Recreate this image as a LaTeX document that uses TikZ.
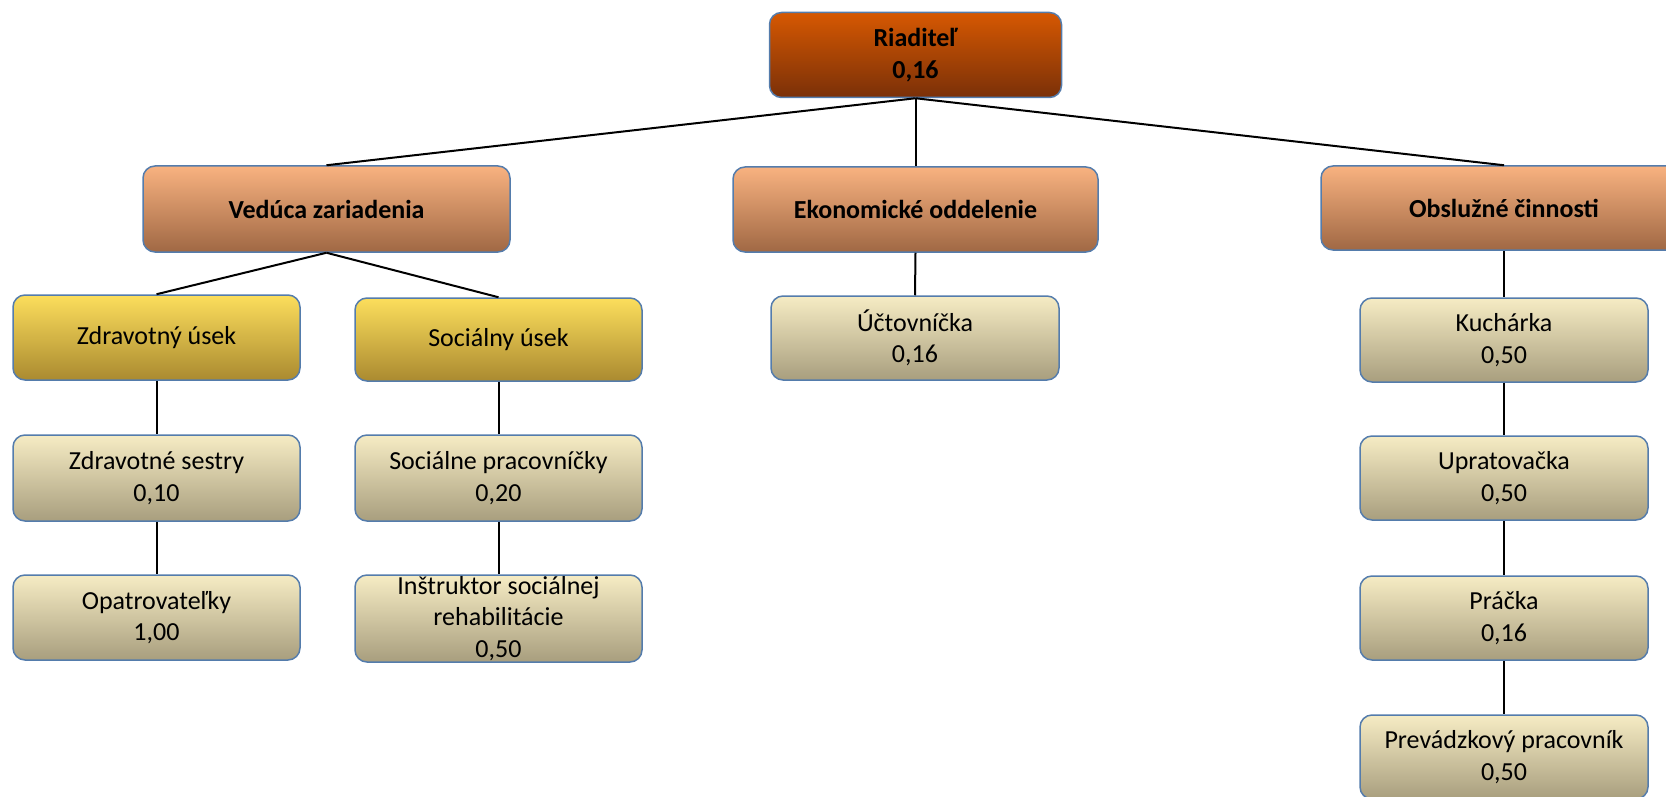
\documentclass[tikz,border=0pt]{standalone}
\usepackage{fontspec}
\setmainfont{Carlito}
\definecolor{bordc}{RGB}{84,124,172}
\definecolor{rtop}{RGB}{214,88,2}
\definecolor{rbot}{RGB}{122,48,8}
\definecolor{otop}{RGB}{248,178,128}
\definecolor{obot}{RGB}{160,104,68}
\definecolor{ytop}{RGB}{252,222,92}
\definecolor{ybot}{RGB}{170,138,48}
\definecolor{ltop}{RGB}{246,236,196}
\definecolor{lbot}{RGB}{168,158,126}
\tikzset{
  box/.style={draw=bordc, line width=1.5pt, rounded corners=12pt, inner sep=0pt,
    align=center, font=\fontsize{26}{31.5}\selectfont, text=black},
  topbox/.style={box, shading=axis, top color=rtop, bottom color=rbot, font=\bfseries\fontsize{26}{31.5}\selectfont},
  headbox/.style={box, shading=axis, top color=otop, bottom color=obot, font=\bfseries\fontsize{26}{31.5}\selectfont},
  secbox/.style={box, shading=axis, top color=ytop, bottom color=ybot},
  leafbox/.style={box, shading=axis, top color=ltop, bottom color=lbot},
  conn/.style={line width=2pt, black}
}
\begin{document}
\begin{tikzpicture}[x=1pt,y=-1pt]
\useasboundingbox (0,0) rectangle (1666,797);
\clip (0,0) rectangle (1666,797);
% nodes
\node[topbox, minimum width=292pt, minimum height=85pt] (r) at (915.5,55) {Riaditeľ\\0,16};
\node[headbox, minimum width=367pt, minimum height=86pt] (v) at (326.5,209) {Vedúca zariadenia};
\node[headbox, minimum width=365pt, minimum height=85pt] (e) at (915.5,209.5) {Ekonomické oddelenie};
\node[headbox, minimum width=366pt, minimum height=84pt] (o) at (1504,208) {Obslužné činnosti};
\node[secbox, minimum width=287pt, minimum height=85pt] (z) at (156.5,337.5) {Zdravotný úsek};
\node[secbox, minimum width=287pt, minimum height=83pt] (s) at (498.5,339.5) {Sociálny úsek};
\node[leafbox, minimum width=288pt, minimum height=84pt] (u) at (915,338) {Účtovníčka\\0,16};
\node[leafbox, minimum width=287pt, minimum height=86pt] (zs) at (156.5,478) {Zdravotné sestry\\0,10};
\node[leafbox, minimum width=287pt, minimum height=85pt] (op) at (156.5,617.5) {Opatrovateľky\\1,00};
\node[leafbox, minimum width=287pt, minimum height=86pt] (sp) at (498.5,478) {Sociálne pracovníčky\\0,20};
\node[leafbox, minimum width=287pt, minimum height=87pt] (in) at (498.5,618.5) {Inštruktor sociálnej\\rehabilitácie\\0,50};
\node[leafbox, minimum width=288pt, minimum height=84pt] (k) at (1504,340) {Kuchárka\\0,50};
\node[leafbox, minimum width=288pt, minimum height=84pt] (up) at (1504,478) {Upratovačka\\0,50};
\node[leafbox, minimum width=288pt, minimum height=84pt] (pr) at (1504,618) {Práčka\\0,16};
\node[leafbox, minimum width=288pt, minimum height=84pt] (pv) at (1504,757) {Prevádzkový pracovník\\0,50};
% connectors
\draw[conn] (r.south) -- (v.north);
\draw[conn] (r.south) -- (e.north);
\draw[conn] (r.south) -- (o.north);
\draw[conn] (v.south) -- (z.north);
\draw[conn] (v.south) -- (s.north);
\draw[conn] (e.south) -- (u.north);
\draw[conn] (z.south) -- (zs.north);
\draw[conn] (zs.south) -- (op.north);
\draw[conn] (s.south) -- (sp.north);
\draw[conn] (sp.south) -- (in.north);
\draw[conn] (o.south) -- (k.north);
\draw[conn] (k.south) -- (up.north);
\draw[conn] (up.south) -- (pr.north);
\draw[conn] (pr.south) -- (pv.north);
\end{tikzpicture}
\end{document}
